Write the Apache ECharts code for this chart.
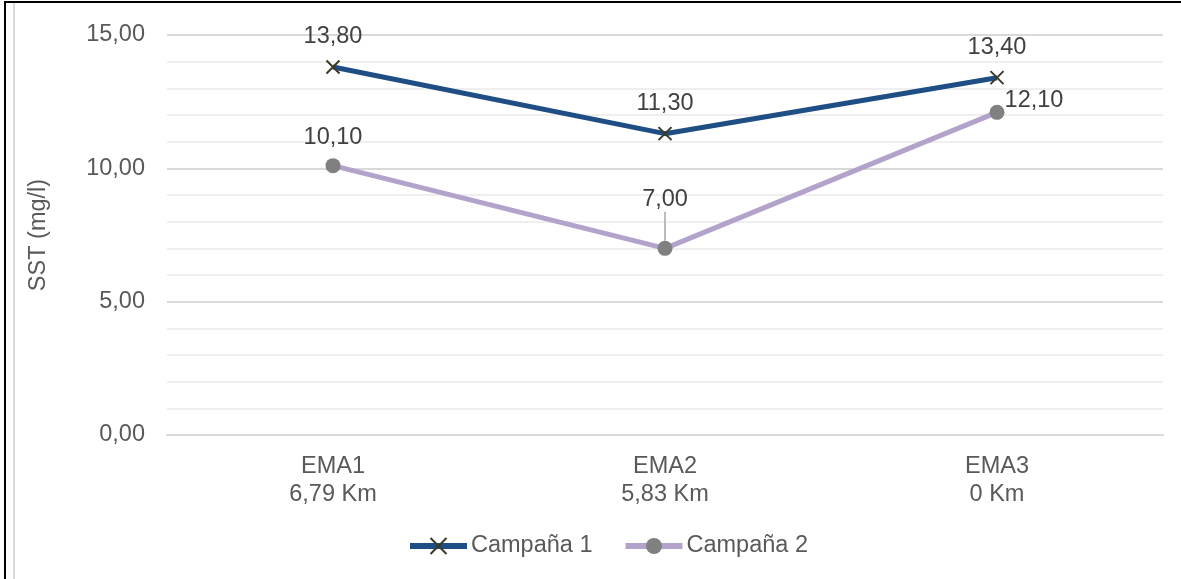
<!DOCTYPE html>
<html>
<head>
<meta charset="utf-8">
<script src="https://cdn.jsdelivr.net/npm/echarts@6/dist/echarts.min.js"></script>
<style>
html,body{margin:0;padding:0;background:#fff;}
#wrap{position:relative;width:1181px;height:579px;overflow:hidden;}
#chart{position:absolute;left:0;top:0;width:1181px;height:579px;}
#bTop{position:absolute;left:4px;top:1px;width:1177px;height:2px;background:#000;}
#bLeft{position:absolute;left:4px;top:1px;width:2px;height:578px;background:#000;}
#bGrey{position:absolute;left:13px;top:3px;width:2px;height:576px;background:#d9d9d9;}
</style>
</head>
<body>
<div id="wrap">
<div id="chart"></div>
<div id="bTop"></div><div id="bLeft"></div><div id="bGrey"></div>
</div>
<script>
const categories = ['EMA1\n6,79 Km', 'EMA2\n5,83 Km', 'EMA3\n0 Km'];
const campana1 = [13.8, 11.3, 13.4];
const campana2 = [10.1, 7.0, 12.1];
const yTicks = [0, 5, 10, 15];

const fmt = v => v.toFixed(2).replace('.', ',');
const FONT = 'Liberation Sans, Arial, sans-serif';
const FS = 23.5;

const chart = echarts.init(document.getElementById('chart'), null, {renderer: 'canvas'});
chart.setOption({
  animation: false,
  textStyle: {fontFamily: FONT},
  grid: {left: 167, right: 18, top: 35, bottom: 144},
  legend: {
    bottom: 16, left: 402,
    itemWidth: 57, itemHeight: 20, itemGap: 30,
    lineStyle: {width: 6},
    textStyle: {fontSize: FS, color: '#595959', fontFamily: FONT, padding: [0, 0, 0, -1]},
    data: ['Campaña 1', 'Campaña 2']
  },
  xAxis: {
    type: 'category',
    data: categories,
    boundaryGap: true,
    axisLine: {lineStyle: {color: '#d9d9d9', width: 2}},
    axisTick: {alignWithLabel: true, length: 6, lineStyle: {color: '#d9d9d9', width: 1}},
    axisLabel: {fontSize: FS, color: '#595959', lineHeight: 28, margin: 18, fontFamily: FONT},
    splitLine: {show: false}
  },
  yAxis: {
    type: 'value',
    min: yTicks[0], max: yTicks[yTicks.length - 1], interval: 5,
    name: 'SST (mg/l)', nameLocation: 'middle', nameGap: 116, nameRotate: 90,
    nameTextStyle: {fontSize: FS, color: '#595959', fontFamily: FONT},
    axisLine: {show: false},
    axisTick: {show: false},
    axisLabel: {fontSize: FS, color: '#595959', margin: 22, formatter: v => fmt(v), fontFamily: FONT},
    splitLine: {lineStyle: {color: '#d9d9d9', width: 2}},
    minorTick: {show: false, splitNumber: 5},
    minorSplitLine: {show: true, lineStyle: {color: '#efefef', width: 2}}
  },
  series: [
    {
      name: 'Campaña 1', type: 'line', data: campana1,
      symbol: 'path://M0,0 L10,10 M10,0 L0,10', symbolSize: 13,
      lineStyle: {color: '#1f4e85', width: 5},
      itemStyle: {color: '#1f4e85', borderColor: '#3a3a26', borderWidth: 2},
      label: {show: true, position: 'top', distance: 11, fontSize: FS, color: '#404040', formatter: p => fmt(p.value), fontFamily: FONT},
      z: 3
    },
    {
      name: 'Campaña 2', type: 'line',
      data: campana2.map((v, i) => i === 1
        ? {value: v, labelLine: {show: true}}
        : {value: v}),
      symbol: 'circle', symbolSize: 15,
      lineStyle: {color: '#b3a2ca', width: 5},
      itemStyle: {color: '#808080'},
      label: {show: true, position: 'top', distance: 9, fontSize: FS, color: '#404040', formatter: p => fmt(p.value), fontFamily: FONT},
      labelLine: {show: false, lineStyle: {color: '#a6a6a6', width: 1.5}, smooth: false, length2: 0},
      labelLayout: function (params) {
        if (params.dataIndex === 1) return {dy: -20};
        if (params.dataIndex === 2) return {dx: 37, dy: 17};
        return {};
      },
      z: 2
    }
  ]
});
</script>
</body>
</html>
